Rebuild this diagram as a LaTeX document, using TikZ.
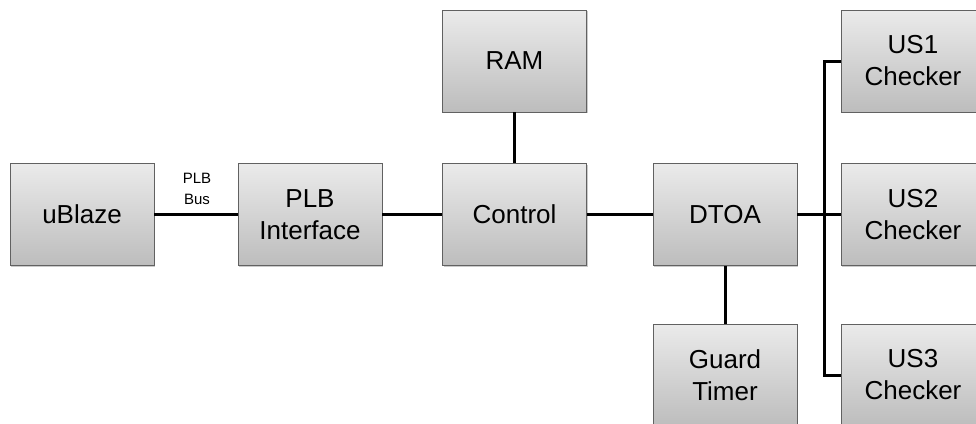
\documentclass[tikz,border=0pt]{standalone}
\usepackage{fontspec}
\setmainfont{Liberation Sans}
\usetikzlibrary{shadows}
\begin{document}
\begin{tikzpicture}[x=1pt,y=-1pt,
  blk/.style={draw=black!62, line width=0.8pt, top color=black!8, bottom color=black!26,
    minimum width=144pt, minimum height=102pt, inner sep=0pt, align=center,
    font=\fontsize{26}{32}\selectfont,
    drop shadow={shadow xshift=1.2pt, shadow yshift=-1.2pt, opacity=0.35, fill=black!60}},
  wire/.style={line width=3pt, line cap=butt},
  lbl/.style={font=\fontsize{15}{21}\selectfont, align=center, inner sep=0pt}]
\useasboundingbox (0,0) rectangle (976,423);
\node[blk] (ub) at (82,214.5) {uBlaze};
\node[blk] (plb) at (310,214.5) {PLB\\Interface};
\node[blk] (ram) at (514.5,61) {RAM};
\node[blk] (ctl) at (514.5,214.5) {Control};
\node[blk] (dtoa) at (725,214.5) {DTOA};
\node[blk] (gt) at (725,375) {Guard\\Timer};
\node[blk] (us1) at (913,61) {US1\\Checker};
\node[blk] (us2) at (913,214.5) {US2\\Checker};
\node[blk] (us3) at (913,375) {US3\\Checker};
\node[lbl] (bus) at (197,189) {PLB\\Bus};
\coordinate (jt) at (824,61);
\coordinate (jb) at (824,375);
\draw[wire] (ub.east) -- (plb.west);
\draw[wire] (plb.east) -- (ctl.west);
\draw[wire] (ctl.east) -- (dtoa.west);
\draw[wire] (ram.south) -- (ctl.north);
\draw[wire] (dtoa.south) -- (gt.north);
\draw[wire] (dtoa.east) -- (us2.west);
\draw[wire, line join=miter] (us1.west) -- (jt) -- (jb) -- (us3.west);
\end{tikzpicture}
\end{document}
